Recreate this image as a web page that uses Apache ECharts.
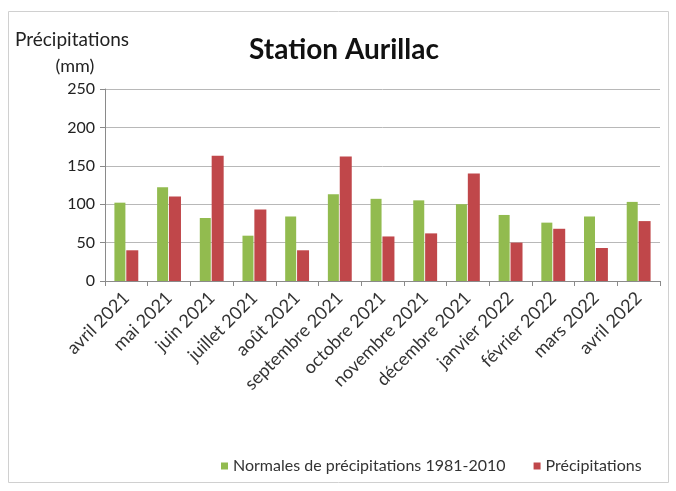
<!DOCTYPE html>
<html><head><meta charset="utf-8">
<script src="https://cdn.jsdelivr.net/npm/echarts@6/dist/echarts.min.js"></script>
<style>html,body{margin:0;padding:0;background:#fff}#c{width:676px;height:491px}</style>
</head><body><div id="c"></div>
<script>
const categories = ['avril 2021','mai 2021','juin 2021','juillet 2021','août 2021','septembre 2021','octobre 2021','novembre 2021','décembre 2021','janvier 2022','février 2022','mars 2022','avril 2022'];
const normales = [102, 122, 82, 59, 84, 113, 107, 105, 100, 86, 76, 84, 103];
const precipitations = [40, 110, 163, 93, 40, 162, 58, 62, 140, 50, 68, 43, 78];
const yTicks = [0, 50, 100, 150, 200, 250];

const F = 'Lato, "Open Sans", sans-serif';
const chart = echarts.init(document.getElementById('c'));
chart.setOption({
  animation: false,
  backgroundColor: '#fff',
  graphic: [{type:'rect', shape:{x:8.5,y:11.5,width:660,height:471}, style:{fill:'none',stroke:'#d0d0d0',lineWidth:1}}],
  title: [
    {text:'Station Aurillac', left:339, top:31, textAlign:'center', textStyle:{fontFamily:F,fontSize:28,fontWeight:'bold',color:'#111'}},
    {text:'Précipitations', left:10, top:25, textStyle:{fontFamily:F,fontSize:19,fontWeight:'normal',color:'#222'}},
    {text:'(mm)', left:70, top:52, textAlign:'center', textStyle:{fontFamily:F,fontSize:18,fontWeight:'normal',color:'#222'}}
  ],
  legend: {
    left: 216, top: 453, icon: 'rect', itemWidth: 7, itemHeight: 7, itemGap: 28,
    textStyle: {fontFamily:F, fontSize:16, color:'#333'},
    data: ['Normales de précipitations 1981-2010','Précipitations']
  },
  grid: {left:105, right:16, top:89, bottom:210, containLabel:false},
  xAxis: {
    type:'category', data: categories, boundaryGap:true,
    axisLine:{lineStyle:{color:'#8a8a8a'}},
    axisTick:{show:true, alignWithLabel:false, length:5, lineStyle:{color:'#8a8a8a'}},
    axisLabel:{rotate:45, interval:0, fontFamily:F, fontSize:18, color:'#333', margin:14}
  },
  yAxis: {
    type:'value', min:0, max:250, interval:50,
    axisLine:{show:true, lineStyle:{color:'#8a8a8a'}},
    axisTick:{show:true, length:5, lineStyle:{color:'#8a8a8a'}},
    splitLine:{lineStyle:{color:'#b8b8b8'}},
    axisLabel:{fontFamily:F, fontSize:16, color:'#222', margin:10,
      formatter: v => yTicks.includes(v) ? String(v) : ''}
  },
  series: [
    {name:'Normales de précipitations 1981-2010', type:'bar', data: normales, barWidth:11, barGap:'8%', itemStyle:{color:'#92bb4f'}},
    {name:'Précipitations', type:'bar', data: precipitations, barWidth:12, itemStyle:{color:'#c0474a'}}
  ]
});
</script></body></html>
